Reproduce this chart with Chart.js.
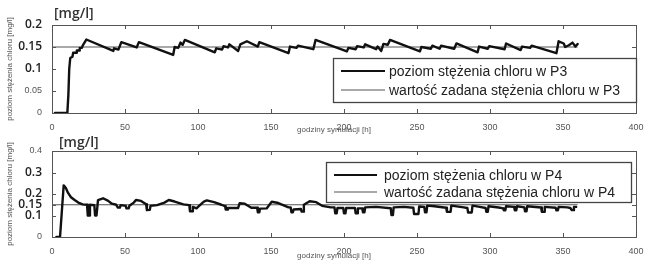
<!DOCTYPE html>
<html>
<head>
<meta charset="utf-8">
<script src="https://cdn.jsdelivr.net/npm/chart.js@4"></script>
<style>
    html, body { margin: 0; padding: 0; background: #fff; }
    #wrap { position: relative; width: 646px; height: 262px; }
    canvas { position: absolute; left: 0; top: 0; }
</style>
</head>
<body>
<div id="wrap">
    <canvas id="chart-p3" width="646" height="262"></canvas>
    <canvas id="chart-p4" width="646" height="262"></canvas>
</div>
<script>
// godziny symulacji [h] / poziom stężenia chloru [mg/l]
const p3Hours = [2, 10.5, 11.2, 11.8, 12.5, 14, 14.5, 16.5, 17, 18.5, 19, 20.5, 21, 23.5,
    42, 42.5, 45.5, 47.5, 58, 59.5, 83, 84, 86.5, 88, 89.5, 91,
    111.5, 112.5, 116.5, 117.5, 120.5, 121.5, 127.5, 129, 133.5, 141, 142,
    162, 163, 167.5, 168.5, 179, 180.5, 202, 203, 208, 209, 213.5, 214.5,
    222, 223, 225.5, 227, 230, 231.5, 252, 253, 259.5, 260.5, 265.5, 266.5,
    275.5, 277, 291.5, 292.5, 298.5, 299.5, 310, 311, 321, 322, 327.5, 328.5,
    345.5, 347, 350.5, 351.5, 354, 356.5, 358.5, 360];
const p3Values = [0, 0, 0.04, 0.1, 0.125, 0.128, 0.137, 0.137, 0.142, 0.142, 0.148, 0.148, 0.153, 0.167,
    0.141, 0.147, 0.144, 0.161, 0.149, 0.161, 0.132, 0.15, 0.148, 0.16, 0.155, 0.166,
    0.138, 0.147, 0.144, 0.152, 0.149, 0.156, 0.141, 0.156, 0.163, 0.151, 0.161,
    0.136, 0.151, 0.148, 0.153, 0.145, 0.166, 0.14, 0.148, 0.145, 0.152, 0.149, 0.156,
    0.145, 0.151, 0.141, 0.157, 0.155, 0.166, 0.14, 0.15, 0.146, 0.153, 0.146, 0.153,
    0.146, 0.158, 0.138, 0.151, 0.146, 0.152, 0.145, 0.158, 0.143, 0.151, 0.148, 0.153,
    0.136, 0.163, 0.158, 0.15, 0.154, 0.16, 0.151, 0.157];

const p4Hours = [3, 5.5, 8, 9.5, 11, 13, 15.5, 18, 21, 24, 24.5, 25.5, 26, 29, 29.5, 30.5, 31.5, 35, 38.5,
    41, 44, 45, 46.5, 47, 50.5, 51, 52.5, 53, 56, 57.5, 61, 64.5, 65, 67, 67.5, 72, 77, 80, 84,
    90, 94, 94.5, 96, 96.5, 99, 100, 104, 106, 111, 116, 118.5, 119, 120, 120.5, 127.5, 128.5,
    132, 136.5, 140.5, 141, 142, 142.5, 147, 150.5, 155, 162, 163.5, 164, 165, 165.5, 170.5,
    171, 172, 172.5, 176.5, 181, 185, 191, 193.5, 194, 195, 195.5, 199.5, 200, 201, 201.5,
    207.5, 208, 209, 209.5, 212.5, 213, 214, 214.5, 222, 232, 232.5, 233.5, 234, 241,
    247.5, 248, 251, 251.5, 255, 255.5, 256.5, 257, 262, 270, 270.5, 273, 273.5, 282,
    284.5, 285, 287.5, 288, 293, 297, 297.5, 298.5, 299, 306, 309, 309.5, 310.5, 311,
    316.5, 317, 318, 318.5, 323.5, 324, 325, 325.5, 335, 335.5, 337, 337.5, 345, 345.5,
    346.5, 347, 353, 355, 356, 357, 357.5, 359];
const p4Values = [0, 0, 0.24, 0.228, 0.205, 0.185, 0.172, 0.16, 0.152, 0.15, 0.1, 0.1, 0.15, 0.148, 0.1, 0.1, 0.172, 0.18, 0.168,
    0.155, 0.15, 0.137, 0.137, 0.148, 0.145, 0.133, 0.133, 0.145, 0.16, 0.172, 0.168, 0.152, 0.125, 0.126, 0.145, 0.148, 0.16, 0.172, 0.165,
    0.152, 0.148, 0.12, 0.12, 0.14, 0.133, 0.14, 0.165, 0.17, 0.162, 0.15, 0.143, 0.128, 0.128, 0.135, 0.135, 0.157,
    0.155, 0.136, 0.136, 0.115, 0.115, 0.132, 0.133, 0.164, 0.158, 0.138, 0.138, 0.115, 0.115, 0.128, 0.13,
    0.118, 0.118, 0.15, 0.166, 0.162, 0.145, 0.138, 0.138, 0.11, 0.11, 0.135, 0.135, 0.11, 0.11, 0.135,
    0.135, 0.11, 0.11, 0.133, 0.133, 0.115, 0.115, 0.138, 0.14, 0.134, 0.102, 0.102, 0.138, 0.14,
    0.136, 0.107, 0.107, 0.142, 0.14, 0.115, 0.115, 0.146, 0.143, 0.136, 0.117, 0.117, 0.146, 0.138,
    0.135, 0.114, 0.114, 0.146, 0.14, 0.135, 0.117, 0.117, 0.143, 0.137, 0.133, 0.124, 0.124, 0.143,
    0.14, 0.124, 0.124, 0.143, 0.138, 0.12, 0.12, 0.143, 0.137, 0.117, 0.117, 0.14, 0.136, 0.124,
    0.124, 0.14, 0.138, 0.135, 0.125, 0.125, 0.14, 0.14];

// wartość zadana
const setpointHours = [0, 360];
const setpointValues = [0.15, 0.15];

const xTicks = [0, 50, 100, 150, 200, 250, 300, 350, 400];
const p3Ticks = [0, 0.05, 0.1, 0.15, 0.2];
const p3BigTicks = [0.1, 0.15, 0.2];
const p4Ticks = [0, 0.1, 0.15, 0.2, 0.3, 0.4];
const p4BigTicks = [0.1, 0.15, 0.2, 0.3];

const p3Labels = ['poziom stężenia chloru w P3', 'wartość zadana stężenia chloru w P3'];
const p4Labels = ['poziom stężenia chloru w P4', 'wartość zadana stężenia chloru w P4'];

const SANS = '"Liberation Sans", Arial, sans-serif';
const BIG = '"Open Sans", sans-serif';

const points = (xs, ys) => xs.map((x, i) => ({ x: x, y: ys[i] }));

const isBig = (ctx, big) => ctx.tick !== undefined && big.includes(ctx.tick.value);

const framePlugin = {
    id: 'frame',
    afterDatasetsDraw(chart, args, opts) {
        const { ctx, chartArea: a, scales: { x, y } } = chart;
        ctx.save();
        ctx.strokeStyle = '#555';
        ctx.lineWidth = 1;
        ctx.strokeRect(Math.round(a.left) + 0.5, Math.round(a.top) + 0.5,
            Math.round(a.right - a.left), Math.round(a.bottom - a.top));

        // inward ticks on all four sides, like matlab
        ctx.beginPath();
        x.ticks.forEach(t => {
            const px = Math.round(x.getPixelForValue(t.value)) + 0.5;
            ctx.moveTo(px, a.bottom); ctx.lineTo(px, a.bottom - 4);
            ctx.moveTo(px, a.top); ctx.lineTo(px, a.top + 4);
        });
        y.ticks.forEach(t => {
            const py = Math.round(y.getPixelForValue(t.value)) + 0.5;
            ctx.moveTo(a.left, py); ctx.lineTo(a.left + 4, py);
            ctx.moveTo(a.right, py); ctx.lineTo(a.right - 4, py);
        });
        ctx.stroke();

        // legend box
        const L = opts.legend;
        ctx.fillStyle = '#fff';
        ctx.fillRect(L.left, L.top, L.right - L.left, L.bottom - L.top);
        ctx.strokeStyle = '#444';
        ctx.lineWidth = 1.3;
        ctx.strokeRect(L.left + 0.5, L.top + 0.5, L.right - L.left, L.bottom - L.top);
        ctx.font = '14px ' + SANS;
        ctx.textBaseline = 'middle';
        ctx.textAlign = 'left';
        chart.data.datasets.forEach((ds, i) => {
            const ry = L.rows[i];
            ctx.strokeStyle = ds.borderColor;
            ctx.lineWidth = i === 0 ? 1.8 : 1.1;
            ctx.beginPath();
            ctx.moveTo(L.lineFrom, ry); ctx.lineTo(L.lineTo, ry);
            ctx.stroke();
            ctx.fillStyle = '#222';
            ctx.fillText(ds.label, L.textX, ry + 1);
        });

        // unit above the axes
        ctx.fillStyle = '#333';
        ctx.font = '600 14px ' + BIG;
        ctx.fillText('[mg/l]', opts.unitX, opts.unitY);

        // x axis title
        ctx.fillStyle = '#555';
        ctx.font = '8px ' + SANS;
        ctx.textAlign = 'center';
        ctx.fillText('godziny symulacji [h]', 334, opts.xTitleY);
        ctx.restore();
    }
};

function plotConfig(p) {
    return {
        type: 'line',
        data: {
            datasets: [{
                label: p.labels[0],
                data: points(p.hours, p.values),
                borderColor: '#111',
                borderWidth: 2.4,
                borderJoinStyle: 'round',
                borderCapStyle: 'round',
                pointRadius: 0,
                tension: 0
            }, {
                label: p.labels[1],
                data: points(setpointHours, setpointValues),
                borderColor: '#555',
                borderWidth: 1.2,
                pointRadius: 0
            }]
        },
        options: {
            responsive: false,
            animation: false,
            layout: { padding: { top: p.top, right: 10, left: 0, bottom: 0 } },
            plugins: {
                legend: { display: false },
                tooltip: { enabled: false },
                frame: p.frame
            },
            scales: {
                x: {
                    type: 'linear',
                    min: 0,
                    max: 400,
                    grid: { display: false },
                    border: { display: false },
                    afterBuildTicks: s => { s.ticks = xTicks.map(v => ({ value: v })); },
                    afterFit: s => { s.height = 262 - p.bottom; },
                    ticks: {
                        padding: 1,
                        autoSkip: false,
                        maxRotation: 0,
                        font: { family: SANS, size: 9 },
                        color: '#555'
                    }
                },
                y: {
                    min: 0,
                    max: p.max,
                    grid: { display: false },
                    border: { display: false },
                    afterBuildTicks: s => { s.ticks = p.yTicks.map(v => ({ value: v })); },
                    afterFit: s => { s.width = 52; },
                    ticks: {
                        padding: 2,
                        autoSkip: false,
                        callback: v => String(v),
                        font: ctx => isBig(ctx, p.bigTicks)
                            ? { family: BIG, size: 12, weight: '600' }
                            : { family: SANS, size: 9 },
                        color: ctx => isBig(ctx, p.bigTicks) ? '#222' : '#555'
                    },
                    title: {
                        display: true,
                        text: 'poziom stężenia chloru [mg/l]',
                        font: { family: SANS, size: 8 },
                        color: '#555',
                        padding: { top: 5, bottom: 0 }
                    }
                }
            }
        },
        plugins: [framePlugin]
    };
}

new Chart(document.getElementById('chart-p3').getContext('2d'), plotConfig({
    hours: p3Hours, values: p3Values, labels: p3Labels,
    yTicks: p3Ticks, bigTicks: p3BigTicks, max: 0.2,
    top: 25, bottom: 113,
    frame: {
        legend: { left: 333, top: 58, right: 636, bottom: 102, rows: [71, 90], lineFrom: 341, lineTo: 385, textX: 389 },
        unitX: 54, unitY: 14, xTitleY: 130
    }
}));

new Chart(document.getElementById('chart-p4').getContext('2d'), plotConfig({
    hours: p4Hours, values: p4Values, labels: p4Labels,
    yTicks: p4Ticks, bigTicks: p4BigTicks, max: 0.4,
    top: 151, bottom: 237,
    frame: {
        legend: { left: 326, top: 162, right: 631, bottom: 202, rows: [175, 192], lineFrom: 334, lineTo: 377, textX: 384 },
        unitX: 59, unitY: 143, xTitleY: 256
    }
}));
</script>
</body>
</html>
